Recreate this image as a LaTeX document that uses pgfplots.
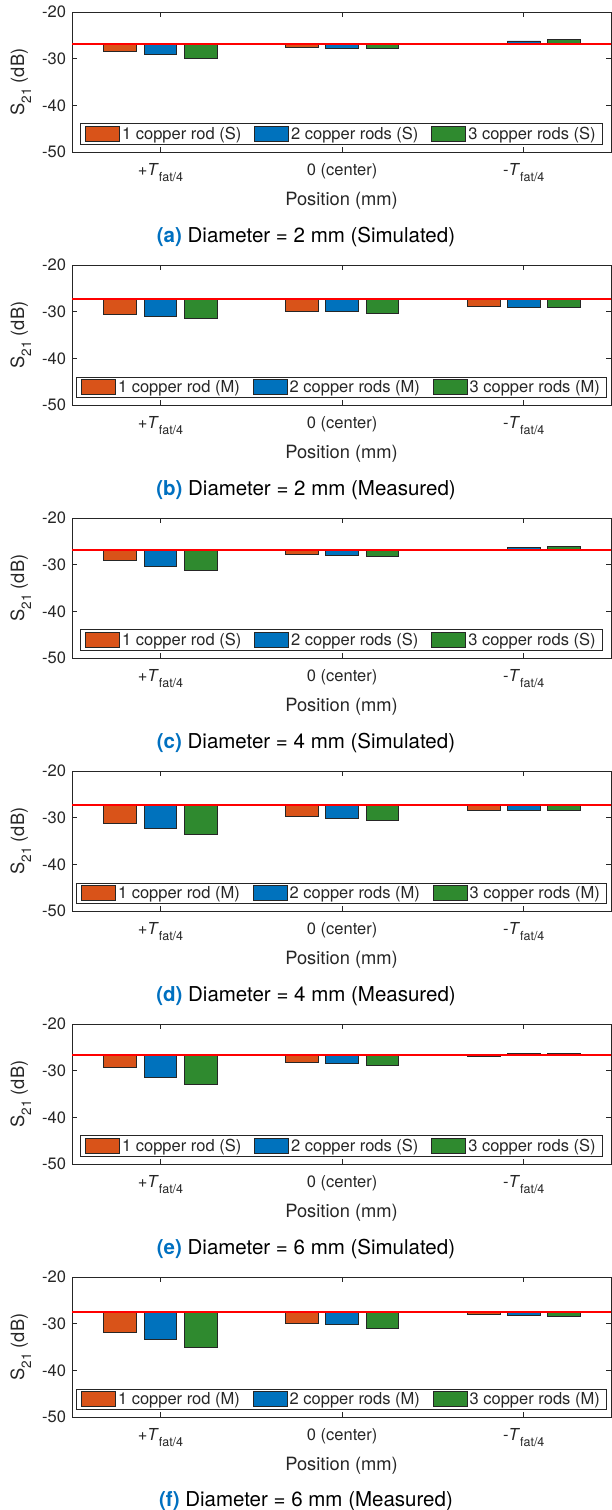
\documentclass[border=0pt]{standalone}
\usepackage{fontspec}
\setmainfont{TeX Gyre Heros}
\usepackage{pgfplots}
\pgfplotsset{compat=1.18}
\definecolor{cOr}{RGB}{217,83,25}
\definecolor{cBl}{RGB}{0,114,189}
\definecolor{cGr}{RGB}{47,138,47}
\definecolor{axc}{RGB}{38,38,38}
\definecolor{capblue}{RGB}{0,112,192}
\newcommand\sub[1]{\raisebox{-6.5pt}{\fontsize{12.5}{12.5}\selectfont #1}}
\newcommand\fs{\fontsize{16.5}{19}\selectfont}
\newcommand\lfs{\fontsize{18.3}{21}\selectfont}
\newcommand\capfs{\fontsize{20.5}{24}\selectfont}
\pgfplotsset{
  bars/.style={ybar, bar width=0.18, draw=black!85, line width=0.8pt},
  panel/.style={
    scale only axis, width=539pt, height=140pt, anchor=north west,
    xmin=0.513, xmax=3.48, ymin=-50, ymax=-20,
    y coord trafo/.code={\pgfmathparse{##1-(#1)}},
    ytick={-50,-40,-30,-20}, yticklabels={-50,-40,-30,-20},
    xtick={1,2,3},
    xticklabels={{+\textit{T}\sub{fat/4}},{0 (center)},{-\textit{T}\sub{fat/4}}},
    tick align=inside, major tick length=5.4pt,
    axis line style={axc, line width=0.8pt},
    every tick/.style={axc, line width=0.8pt},
    tick label style={font=\fs, text=axc},
    xticklabel style={anchor=base, yshift=-23pt},
    yticklabel style={xshift=-2.5pt},
    xlabel={Position (mm)},
    xlabel style={font=\lfs, text=axc, at={(axis description cs:0.5,0)}, anchor=base, yshift=-53pt},
    ylabel={S\raisebox{-7pt}{\fontsize{13.5}{13.5}\selectfont 21} (dB)},
    ylabel style={font=\lfs, text=axc, at={(axis description cs:-0.095,0.5)}, anchor=center},
    legend style={at={(0.5,0.05)}, anchor=south, legend columns=3, draw=axc, line width=0.8pt,
      fill=white, font=\fs, text=axc, inner xsep=5pt, inner ysep=1.5pt,
      /tikz/every even column/.append style={column sep=11pt}},
    legend cell align=left,
    legend image code/.code={\draw[##1, line width=0.8pt] (0pt,-7.5pt) rectangle (34pt,7.5pt);},
  },
  refline/.style={red, line width=2pt, forget plot},
}
\begin{document}
\begin{tikzpicture}
\useasboundingbox (0,0) rectangle (612pt,-1510pt);
% (a)
\begin{axis}[panel=-26.75, at={(72pt,-12pt)}]
\addplot[bars, bar shift=-0.2215, fill=cOr] coordinates {(1,-28.47) (2,-27.69) (3,-26.95)};
\addplot[bars, bar shift=0, fill=cBl] coordinates {(1,-29.18) (2,-27.70) (3,-26.20)};
\addplot[bars, bar shift=0.2215, fill=cGr] coordinates {(1,-29.90) (2,-27.83) (3,-25.90)};
\addplot[refline] coordinates {(0,-26.75) (4,-26.75)};
\legend{1 copper rod (S),2 copper rods (S),3 copper rods (S)}
\end{axis}
\node[anchor=base, font=\capfs] at (306pt,-242.7pt) {\textcolor{capblue}{\textbf{(a)}} Diameter = 2 mm (Simulated)};
% (b)
\begin{axis}[panel=-27.30, at={(72pt,-265pt)}]
\addplot[bars, bar shift=-0.2215, fill=cOr] coordinates {(1,-30.58) (2,-29.85) (3,-28.90)};
\addplot[bars, bar shift=0, fill=cBl] coordinates {(1,-31.10) (2,-30.00) (3,-29.05)};
\addplot[bars, bar shift=0.2215, fill=cGr] coordinates {(1,-31.46) (2,-30.36) (3,-29.05)};
\addplot[refline] coordinates {(0,-27.30) (4,-27.30)};
\legend{1 copper rod (M),2 copper rods (M),3 copper rods (M)}
\end{axis}
\node[anchor=base, font=\capfs] at (306pt,-495.7pt) {\textcolor{capblue}{\textbf{(b)}} Diameter = 2 mm (Measured)};
% (c)
\begin{axis}[panel=-26.80, at={(72pt,-518pt)}]
\addplot[bars, bar shift=-0.2215, fill=cOr] coordinates {(1,-29.00) (2,-27.86) (3,-27.00)};
\addplot[bars, bar shift=0, fill=cBl] coordinates {(1,-30.29) (2,-27.93) (3,-26.29)};
\addplot[bars, bar shift=0.2215, fill=cGr] coordinates {(1,-31.29) (2,-28.21) (3,-26.07)};
\addplot[refline] coordinates {(0,-26.80) (4,-26.80)};
\legend{1 copper rod (S),2 copper rods (S),3 copper rods (S)}
\end{axis}
\node[anchor=base, font=\capfs] at (306pt,-748.7pt) {\textcolor{capblue}{\textbf{(c)}} Diameter = 4 mm (Simulated)};
% (d)
\begin{axis}[panel=-27.37, at={(72pt,-771pt)}]
\addplot[bars, bar shift=-0.2215, fill=cOr] coordinates {(1,-31.31) (2,-29.78) (3,-28.40)};
\addplot[bars, bar shift=0, fill=cBl] coordinates {(1,-32.34) (2,-30.07) (3,-28.40)};
\addplot[bars, bar shift=0.2215, fill=cGr] coordinates {(1,-33.50) (2,-30.51) (3,-28.54)};
\addplot[refline] coordinates {(0,-27.37) (4,-27.37)};
\legend{1 copper rod (M),2 copper rods (M),3 copper rods (M)}
\end{axis}
\node[anchor=base, font=\capfs] at (306pt,-1001.7pt) {\textcolor{capblue}{\textbf{(d)}} Diameter = 4 mm (Measured)};
% (e)
\begin{axis}[panel=-26.71, at={(72pt,-1024pt)}]
\addplot[bars, bar shift=-0.2215, fill=cOr] coordinates {(1,-29.36) (2,-28.14) (3,-26.95)};
\addplot[bars, bar shift=0, fill=cBl] coordinates {(1,-31.43) (2,-28.36) (3,-26.29)};
\addplot[bars, bar shift=0.2215, fill=cGr] coordinates {(1,-32.93) (2,-28.86) (3,-26.36)};
\addplot[refline] coordinates {(0,-26.71) (4,-26.71)};
\legend{1 copper rod (S),2 copper rods (S),3 copper rods (S)}
\end{axis}
\node[anchor=base, font=\capfs] at (306pt,-1254.7pt) {\textcolor{capblue}{\textbf{(e)}} Diameter = 6 mm (Simulated)};
% (f)
\begin{axis}[panel=-27.39, at={(72pt,-1277pt)}]
\addplot[bars, bar shift=-0.2215, fill=cOr] coordinates {(1,-31.92) (2,-29.95) (3,-27.97)};
\addplot[bars, bar shift=0, fill=cBl] coordinates {(1,-33.30) (2,-30.24) (3,-28.19)};
\addplot[bars, bar shift=0.2215, fill=cGr] coordinates {(1,-35.06) (2,-31.05) (3,-28.48)};
\addplot[refline] coordinates {(0,-27.39) (4,-27.39)};
\legend{1 copper rod (M),2 copper rods (M),3 copper rods (M)}
\end{axis}
\node[anchor=base, font=\capfs] at (306pt,-1506pt) {\textcolor{capblue}{\textbf{(f)}} Diameter = 6 mm (Measured)};
\end{tikzpicture}
\end{document}
